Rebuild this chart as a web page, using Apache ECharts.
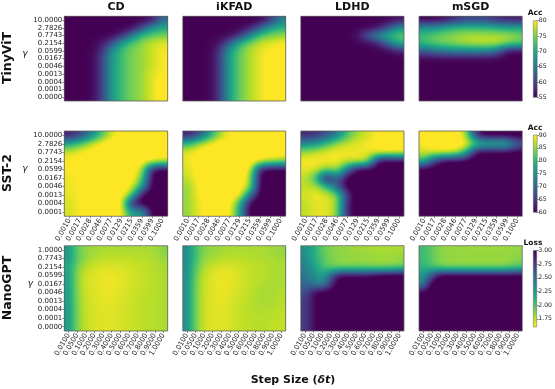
<!DOCTYPE html>
<html><head><meta charset="utf-8">
<style>html,body{margin:0;padding:0;background:#fff}#c{width:555px;height:389px}</style>
<script src="https://cdn.jsdelivr.net/npm/echarts@6/dist/echarts.min.js"></script>
</head><body><div id="c"></div>
<script>
const stepFine = ['0.0010','0.0017','0.0028','0.0046','0.0077','0.0129','0.0215','0.0359','0.0599','0.1000'];
const stepCoarse = ['0.0100','0.0500','0.1000','0.2000','0.3000','0.4000','0.5000','0.6000','0.7000','0.8000','0.9000','1.0000'];
const gammaTiny = ['10.0000','2.7826','0.7743','0.2154','0.0599','0.0167','0.0046','0.0013','0.0004','0.0001','0.0000'];
const gammaSST = ['10.0000','2.7826','0.7743','0.2154','0.0599','0.0167','0.0046','0.0013','0.0004','0.0001'];
const gammaNano = ['1.0000','0.7743','0.2154','0.0599','0.0167','0.0046','0.0013','0.0004','0.0001','0.0000'];
const lossTicks = [1.75,2.00,2.25,2.50,2.75,3.00];

const tinyCD = [
[55,55,55,55,55,55,55,55,56,64],
[55,55,55,55,55,55,55,60,68,70],
[55,55,55,55,55,57,65,72,74,75],
[55,55,55,56,60,69,73,76,78,79],
[55,55,55,57,67,72,75,76,78,80],
[55,55,55,58,68,72,75,76,78,80],
[55,55,55,58,68,72,75,76,78,80],
[55,55,55,58,68,72,75,76,79,80],
[55,55,55,58,68,72,75,76,79,81],
[55,55,55,58,68,72,75,76,79,81],
[55,55,55,58,68,72,75,76,79,81]];
const tinyKFAD = [
[55,55,55,55,55,55,55,55,58,66],
[55,55,55,55,55,55,56,62,69,71],
[55,55,55,55,55,58,66,73,75,76],
[55,55,55,56,62,71,75,78,79,80],
[55,55,55,58,68,74,77,79,80,81],
[55,55,55,58,69,74,77,79,81,81],
[55,55,55,58,69,74,77,79,81,81],
[55,55,55,58,69,74,77,79,81,81],
[55,55,55,58,69,74,77,79,81,81],
[55,55,55,58,69,74,77,79,81,81],
[55,55,55,58,69,74,77,79,81,81]];
const tinyLDHD = [
[55,55,55,55,55,55,55,55,55,56],
[55,55,55,55,55,55,55,56,61,68],
[55,55,55,55,55,56,63,68,72,74],
[55,55,55,55,55,55,55,57,64,71],
[55,55,55,55,55,55,55,55,55,57],
[55,55,55,55,55,55,55,55,55,55],
[55,55,55,55,55,55,55,55,55,55],
[55,55,55,55,55,55,55,55,55,55],
[55,55,55,55,55,55,55,55,55,55],
[55,55,55,55,55,55,55,55,55,55],
[55,55,55,55,55,55,55,55,55,55]];
const tinySGD = [
[55,55,56,58,60,60,60,58,57,57],
[68,68,70,72,72,72,72,71,70,70],
[72,74,75,76,77,77,77,77,77,75],
[72,74,75,76,77,78,78,78,76,74],
[62,64,65,66,66,66,66,64,55,55],
[55,55,55,55,55,55,55,55,55,55],
[55,55,55,55,55,55,55,55,55,55],
[55,55,55,55,55,55,55,55,55,55],
[55,55,55,55,55,55,55,55,55,55],
[55,55,55,55,55,55,55,55,55,55],
[55,55,55,55,55,55,55,55,55,55]];

const sstCD = [
[62,65,72,80,88,91,92,92,92,92],
[78,82,87,91,92,92,92,92,92,92],
[88,90,91,92,92,92,92,92,92,92],
[90,91,92,92,92,92,92,92,91,89],
[90,91,92,92,92,92,92,88,60,58],
[89,91,91,92,92,92,92,84,58,58],
[89,90,91,91,92,92,90,78,58,58],
[89,90,91,91,92,92,84,58,58,58],
[88,90,91,91,92,92,60,58,58,58],
[88,90,91,91,92,92,76,78,58,58]];
const sstKFAD = [
[62,66,75,85,90,91,92,92,92,92],
[80,86,90,92,92,92,92,92,92,92],
[89,91,92,92,92,92,92,92,92,92],
[89,91,92,92,92,92,92,91,88,86],
[88,91,92,92,92,92,92,60,58,58],
[87,91,92,92,92,92,88,58,58,58],
[85,90,92,92,92,92,88,58,58,58],
[85,90,92,92,92,92,72,58,58,58],
[85,89,91,92,92,80,58,58,58,58],
[85,89,91,92,92,78,58,58,58,58]];
const sstLDHD = [
[63,64,67,72,81,86,88,90,92,92],
[74,76,81,86,88,89,90,91,92,92],
[86,88,89,90,90,89,89,91,91,90],
[90,90,90,90,88,90,88,58,58,58],
[89,89,84,87,72,58,58,58,58,58],
[87,80,56,72,58,58,58,58,58,58],
[87,87,80,68,58,58,58,58,58,58],
[88,90,88,86,64,58,58,58,58,58],
[87,89,89,86,62,58,58,58,58,58],
[87,89,89,86,62,58,58,58,58,58]];
const sstSGD = [
[90,90,91,91,88,62,58,58,58,58],
[90,91,92,92,92,84,82,82,82,70],
[88,90,90,89,80,58,58,58,58,58],
[80,64,58,58,58,58,58,58,58,58],
[58,58,58,58,58,58,58,58,58,58],
[58,58,58,58,58,58,58,58,58,58],
[58,58,58,58,58,58,58,58,58,58],
[58,58,58,58,58,58,58,58,58,58],
[58,58,58,58,58,58,58,58,58,58],
[58,58,58,58,58,58,58,58,58,58]];

const nanoCD = [
[2.28,1.92,1.83,1.80,1.78,1.78,1.78,1.78,1.78,1.78,1.80,1.86],
[2.25,1.97,1.82,1.77,1.75,1.73,1.73,1.73,1.75,1.75,1.77,1.82],
[2.18,1.88,1.74,1.69,1.67,1.67,1.68,1.69,1.72,1.73,1.76,1.78],
[2.24,1.82,1.70,1.66,1.64,1.63,1.65,1.68,1.71,1.73,1.75,1.78],
[2.24,1.82,1.70,1.66,1.64,1.63,1.65,1.68,1.71,1.73,1.75,1.78],
[2.24,1.84,1.71,1.67,1.64,1.64,1.67,1.69,1.72,1.74,1.75,1.78],
[2.26,1.84,1.71,1.67,1.65,1.65,1.68,1.70,1.73,1.75,1.75,1.78],
[2.26,1.86,1.72,1.68,1.66,1.66,1.68,1.70,1.73,1.75,1.75,1.78],
[2.26,1.86,1.72,1.68,1.66,1.66,1.68,1.70,1.73,1.75,1.75,1.78],
[2.26,1.86,1.72,1.68,1.66,1.66,1.68,1.70,1.73,1.75,1.75,1.78]];
const nanoKFAD = [
[2.34,2.02,1.86,1.82,1.80,1.78,1.78,1.78,1.78,1.78,1.80,1.83],
[2.34,2.02,1.83,1.79,1.77,1.75,1.75,1.75,1.77,1.77,1.78,1.80],
[2.32,1.96,1.76,1.70,1.67,1.66,1.69,1.72,1.74,1.75,1.77,1.78],
[2.32,1.91,1.72,1.66,1.64,1.64,1.68,1.72,1.74,1.75,1.78,1.78],
[2.32,1.88,1.71,1.66,1.64,1.64,1.68,1.72,1.75,1.77,1.78,1.78],
[2.32,1.88,1.70,1.66,1.64,1.66,1.70,1.73,1.77,1.79,1.78,1.76],
[2.32,1.88,1.70,1.66,1.65,1.67,1.71,1.74,1.77,1.79,1.78,1.76],
[2.32,1.88,1.70,1.66,1.66,1.68,1.72,1.74,1.77,1.77,1.76,1.74],
[2.32,1.88,1.70,1.66,1.66,1.68,1.72,1.74,1.75,1.75,1.74,1.73],
[2.32,1.88,1.70,1.66,1.66,1.68,1.72,1.74,1.75,1.75,1.74,1.73]];
const nanoLDHD = [
[2.30,2.15,1.95,1.86,1.83,1.82,1.80,1.80,1.78,1.78,1.78,1.78],
[2.35,2.15,1.98,1.88,1.85,1.84,1.83,1.83,1.82,1.81,1.81,1.83],
[2.40,2.25,2.03,1.88,1.83,1.83,1.83,1.83,1.80,1.80,1.80,1.88],
[2.45,2.35,2.15,2.60,3.05,3.05,3.05,3.05,3.10,3.20,3.20,3.20],
[2.55,2.45,2.30,2.80,3.10,3.10,3.10,3.10,3.10,3.10,3.10,3.10],
[2.65,3.00,3.10,3.10,3.10,3.10,3.10,3.10,3.10,3.10,3.10,3.10],
[2.75,2.95,3.10,3.10,3.10,3.10,3.10,3.10,3.10,3.10,3.10,3.10],
[2.75,2.95,3.10,3.10,3.10,3.10,3.10,3.10,3.10,3.10,3.10,3.10],
[2.75,2.95,3.10,3.10,3.10,3.10,3.10,3.10,3.10,3.10,3.10,3.10],
[2.75,2.95,3.10,3.10,3.10,3.10,3.10,3.10,3.10,3.10,3.10,3.10]];
const nanoSGD = [
[2.05,1.95,1.83,1.82,1.82,1.81,1.81,1.81,1.81,1.81,1.81,1.83],
[2.05,1.95,1.86,1.84,1.83,1.83,1.83,1.83,1.83,1.83,1.83,1.85],
[2.10,1.98,1.83,1.80,1.80,1.80,1.80,1.80,1.80,1.80,1.83,1.93],
[2.25,2.70,3.15,3.15,3.15,3.15,3.15,3.15,3.15,3.15,3.15,3.15],
[2.35,3.10,3.15,3.15,3.15,3.15,3.15,3.15,3.15,3.15,3.15,3.15],
[3.05,3.15,3.15,3.15,3.15,3.15,3.15,3.15,3.15,3.15,3.15,3.15],
[3.15,3.15,3.15,3.15,3.15,3.15,3.15,3.15,3.15,3.15,3.15,3.15],
[3.15,3.15,3.15,3.15,3.15,3.15,3.15,3.15,3.15,3.15,3.15,3.15],
[3.15,3.15,3.15,3.15,3.15,3.15,3.15,3.15,3.15,3.15,3.15,3.15],
[3.15,3.15,3.15,3.15,3.15,3.15,3.15,3.15,3.15,3.15,3.15,3.15]];

const viridis = ['#440154','#482475','#414487','#355f8d','#2a788e','#21918c','#22a884','#44bf70','#7ad151','#bddf26','#fde725'];
const vir = viridis.map(h => [1,3,5].map(i => parseInt(h.substr(i,2),16)));
function cmap(t){
  t = Math.max(0, Math.min(1, t));
  const f = t*10, i = Math.min(9, Math.floor(f)), a = f-i;
  const c = [0,1,2].map(k => Math.round(vir[i][k]+(vir[i+1][k]-vir[i][k])*a));
  return 'rgb('+c.join(',')+')';
}
function bs(t){
  const t2=t*t,t3=t2*t;
  return [(1-3*t+3*t2-t3)/6,(4-6*t2+3*t3)/6,(1+3*t+3*t2-3*t3)/6,t3/6];
}
function sample(m,u,v){
  const R=m.length, C=m[0].length;
  const cl=(a,n)=>Math.max(0,Math.min(n-1,a));
  const i0=Math.floor(v), j0=Math.floor(u);
  const wu=bs(u-j0), wv=bs(v-i0);
  let s=0;
  for(let a=0;a<4;a++){
    const r=m[cl(i0+a-1,R)];
    for(let b=0;b<4;b++) s+=wv[a]*wu[b]*r[cl(j0+b-1,C)];
  }
  return s;
}

const colX = [[64.3,167.7],[182.7,285.7],[300.7,404],[419,522.3]];
const rowY = [[16.3,101],[131,216.3],[245.7,331]];
const rows = [
  {g:gammaTiny, s:stepFine, m:[tinyCD,tinyKFAD,tinyLDHD,tinySGD], lo:55, hi:80, rev:false, xl:false},
  {g:gammaSST, s:stepFine, m:[sstCD,sstKFAD,sstLDHD,sstSGD], lo:60, hi:90, rev:false, xl:true},
  {g:gammaNano, s:stepCoarse, m:[nanoCD,nanoKFAD,nanoLDHD,nanoSGD], lo:1.6, hi:3.0, rev:true, xl:true}
];
const methods = ['CD','iKFAD','LDHD','mSGD'];
const FONT = 'DejaVu Sans';
const border = 'rgba(95,95,95,0.8)';
const grids=[], xAxes=[], yAxes=[], series=[];

rows.forEach((R,ri)=>{
  R.m.forEach((mat,ci)=>{
    const idx=grids.length;
    grids.push({left:colX[ci][0], width:colX[ci][1]-colX[ci][0], top:rowY[ri][0], height:rowY[ri][1]-rowY[ri][0],
      show:true, borderColor:border, borderWidth:1, backgroundColor:'transparent', z:6});
    xAxes.push({type:'category', gridIndex:idx, data:R.s, boundaryGap:true,
      axisLine:{show:false}, splitLine:{show:false},
      axisTick:{show:R.xl, alignWithLabel:true, length:2, lineStyle:{color:'#444',width:0.6}},
      axisLabel:{show:R.xl, interval:0, rotate:60, fontSize:7, fontFamily:FONT, color:'#222', margin:3, hideOverlap:false}});
    yAxes.push({type:'category', gridIndex:idx, data:R.g, inverse:true, boundaryGap:true,
      axisLine:{show:false}, splitLine:{show:false},
      axisTick:{show:ci===0, alignWithLabel:true, length:2, lineStyle:{color:'#444',width:0.6}},
      axisLabel:{show:ci===0, interval:0, fontSize:7, fontFamily:FONT, color:'#222', margin:2}});
    const cells=[];
    mat.forEach((r,i)=>r.forEach((v,j)=>cells.push([j,i,v])));
    series.push({type:'custom', xAxisIndex:idx, yAxisIndex:idx, coordinateSystem:'cartesian2d', silent:true, z:2,
      animation:false, encode:{x:0,y:1}, data:cells, clip:false, progressive:0,
      renderItem:(p,api)=>{
        const j=api.value(0), i=api.value(1);
        const c=api.coord([j,i]), s=api.size([1,1]);
        const x0=c[0]-s[0]/2, y0=c[1]-s[1]/2;
        const l=Math.round(x0), r=Math.round(x0+s[0]), t=Math.round(y0), b=Math.round(y0+s[1]);
        const kids=[];
        for(let py=t;py<b;py++){
          for(let px=l;px<r;px++){
            const u=j+(px+0.5-x0)/s[0]-0.5, v=i+(py+0.5-y0)/s[1]-0.5;
            let n=(sample(mat,u,v)-R.lo)/(R.hi-R.lo);
            if(R.rev) n=1-n;
            kids.push({type:'rect',shape:{x:px,y:py,width:1,height:1},style:{fill:cmap(n)}});
          }
        }
        return {type:'group',children:kids};
      }});
  });
});

// colour bars
const cbarY=[[20.7,97.3],[135,212.3],[250.5,327]];
const cbarSpec=[
  {lo:55,hi:80,interval:5,rev:false},
  {lo:60,hi:90,interval:5,rev:false},
  {lo:1.6,hi:3.0,ticks:lossTicks,rev:true}
];
cbarSpec.forEach((S,k)=>{
  const idx=grids.length;
  grids.push({left:533.3,width:3.9,top:cbarY[k][0],height:cbarY[k][1]-cbarY[k][0],show:true,borderColor:border,borderWidth:0.6,backgroundColor:'transparent',z:6});
  xAxes.push({type:'category',gridIndex:idx,data:[''],show:false});
  const ya={type:'value',gridIndex:idx,position:'right',min:S.lo,max:S.hi,
    axisLine:{show:false},splitLine:{show:false},
    axisTick:{show:true,length:2,lineStyle:{color:'#444',width:0.6}},
    axisLabel:{fontSize:6.2,fontFamily:FONT,color:'#222',margin:1.5,showMinLabel:true,showMaxLabel:true}};
  if(S.ticks){
    ya.axisTick.customValues=S.ticks;
    ya.axisLabel.customValues=S.ticks;
    ya.axisLabel.formatter=v=>v.toFixed(2);
  } else ya.interval=S.interval;
  yAxes.push(ya);
  const stops=viridis.map((col,i)=>({offset:S.rev? i/10 : 1-i/10,color:col}));
  series.push({type:'custom',xAxisIndex:idx,yAxisIndex:idx,coordinateSystem:'cartesian2d',silent:true,z:2,animation:false,
    encode:{x:0,y:[1,2]},data:[[0,S.lo,S.hi]],
    renderItem:(p,api)=>{
      const a=api.coord([0,api.value(2)]), b=api.coord([0,api.value(1)]), s=api.size([1,0]);
      return {type:'rect',shape:{x:a[0]-s[0]/2,y:a[1],width:s[0],height:b[1]-a[1]},
        style:{fill:new echarts.graphic.LinearGradient(0,0,0,1,stops)}};
    }});
});

const txt=(x,y,text,o={})=>({type:'text',x,y,rotation:o.rot||0,silent:true,z:20,
  style:{text,fontFamily:FONT,fontSize:o.size||11,fontWeight:o.weight||'bold',fontStyle:o.style||'normal',fill:'#111',align:'center',verticalAlign:'middle',rich:o.rich}});
const graphics=[];
methods.forEach((m,i)=>graphics.push(txt((colX[i][0]+colX[i][1])/2,7.5,m,{size:11})));
graphics.push(txt(8,58,'TinyViT',{rot:Math.PI/2,size:12.5}));
graphics.push(txt(8,173,'SST-2',{rot:Math.PI/2,size:12.5}));
graphics.push(txt(8,288,'NanoGPT',{rot:Math.PI/2,size:12.5}));
graphics.push(txt(25,54,'γ',{size:9,weight:'normal',style:'italic'}));
graphics.push(txt(25,169,'γ',{size:9,weight:'normal',style:'italic'}));
graphics.push(txt(30.5,284,'γ',{size:9,weight:'normal',style:'italic'}));
graphics.push(txt(535,13.5,'Acc',{size:7.5}));
graphics.push(txt(535,128.5,'Acc',{size:7.5}));
graphics.push(txt(533,243.5,'Loss',{size:7.5}));
graphics.push(txt(293,380,'Step Size ({i|δt})',{size:11,rich:{i:{fontFamily:FONT,fontSize:11,fontWeight:'bold',fontStyle:'italic',fill:'#111'}}}));

const chart=echarts.init(document.getElementById('c'),null,{renderer:'canvas'});
chart.setOption({animation:false,backgroundColor:'#fff',grid:grids,xAxis:xAxes,yAxis:yAxes,series,graphic:{elements:graphics}});
</script></body></html>
